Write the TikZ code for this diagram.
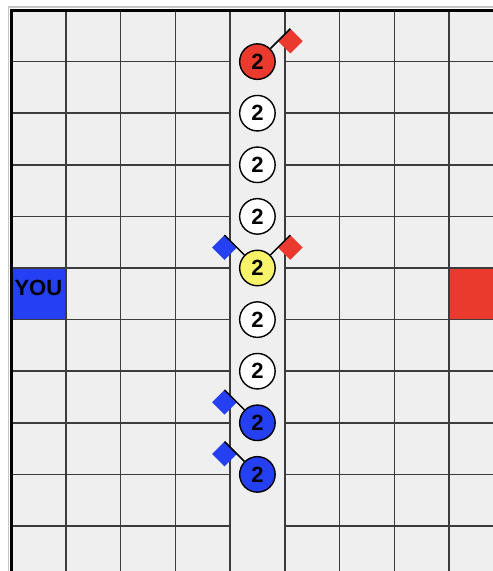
\documentclass[tikz,border=0pt]{standalone}
\usepackage{fontspec}
\setmainfont{Liberation Sans}
\definecolor{cellgrey}{HTML}{EFEFEF}
\definecolor{gridline}{HTML}{3C3C3C}
\definecolor{teamred}{HTML}{EA3A2D}
\definecolor{teamblue}{HTML}{2440F2}
\definecolor{unityellow}{HTML}{F8F46A}
\begin{document}
\begin{tikzpicture}[x=1pt,y=1pt,
  unit/.style={circle, draw=black, line width=1.4pt, minimum size=35.5pt, inner sep=0pt, font=\bfseries\fontsize{22}{22}\selectfont},
  flag/.style={rectangle, minimum size=17.5pt, inner sep=0pt, outer sep=0pt},
  pole/.style={draw=black, line width=1.5pt}]
\useasboundingbox (0,0) rectangle (493,-571);
\begin{scope}
\clip (0,0) rectangle (493,-571);
\fill[cellgrey] (11,-10) rectangle (493,-571);
\fill[teamred] (449,-267.6) rectangle (503.75,-319.2);
\node[fill=teamblue, minimum width=54.75pt, minimum height=51.6pt, inner sep=0pt, text depth=12pt, font=\bfseries\fontsize{22}{22}\selectfont] (you) at (38.4,-293.4) {YOU};
\foreach \j in {1,...,11}
  \draw[gridline, line width=1.5pt] (11,-10-51.6*\j) -- (230,-10-51.6*\j) (284.75,-10-51.6*\j) -- (504,-10-51.6*\j);
\foreach \i in {1,...,9}
  \draw[gridline, line width=1.5pt] (11+54.75*\i,-10) -- (11+54.75*\i,-571);
\draw[black!22, line width=1.5pt] (8.6,-571) -- (8.6,-7.2) -- (493,-7.2);
\draw[black, line width=2.7pt] (11.3,-571) -- (11.3,-10.3) -- (493,-10.3);
\end{scope}
\node[unit, fill=teamred] (u1) at (257.4,-61.6) {2};
\foreach \k in {2,3,4,6,7}
  \node[unit, fill=white] (u\k) at (257.4,-10-51.6*\k) {2};
\node[unit, fill=unityellow] (u5) at (257.4,-268) {2};
\node[unit, fill=teamblue] (u8) at (257.4,-422.8) {2};
\node[unit, fill=teamblue] (u9) at (257.4,-474.4) {2};
% flags
\path (u1.center) ++(45:46.5pt) coordinate (p1);
\node[flag, fill=teamred, rotate=45, anchor=north east] (f1) at (p1) {};
\draw[pole] (u1) -- (p1);
\path (u5.center) ++(45:46.5pt) coordinate (p5r);
\node[flag, fill=teamred, rotate=45, anchor=north east] (f5r) at (p5r) {};
\draw[pole] (u5) -- (p5r);
\foreach \k in {5,8,9} {
  \path (u\k.center) ++(135:46.5pt) coordinate (p\k b);
  \node[flag, fill=teamblue, rotate=135, anchor=south east] (f\k b) at (p\k b) {};
  \draw[pole] (u\k) -- (p\k b);
}
\end{tikzpicture}
\end{document}
